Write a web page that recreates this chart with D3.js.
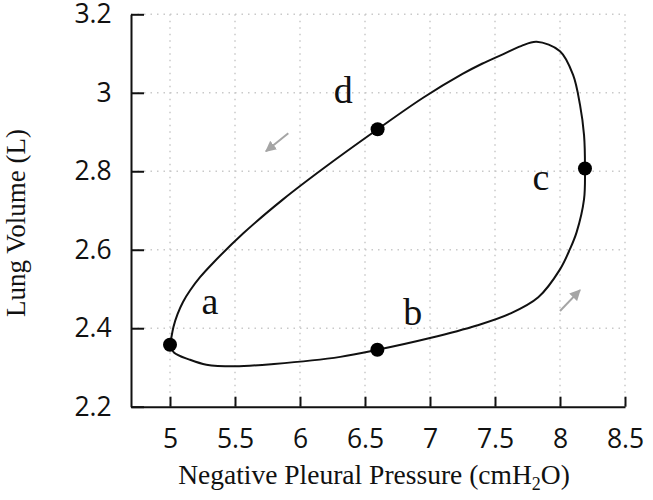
<!DOCTYPE html>
<html>
<head>
<meta charset="utf-8">
<script src="https://cdn.jsdelivr.net/npm/d3@7"></script>
<style>
  body { margin: 0; background: #fff; }
  svg { display: block; }
</style>
</head>
<body>
<svg id="chart" width="653" height="500"></svg>
<script>
// ---- data ----
const xTicks = [5, 5.5, 6, 6.5, 7, 7.5, 8, 8.5];
const yTicks = [2.2, 2.4, 2.6, 2.8, 3.0, 3.2];
const xTickLabels = ["5", "5.5", "6", "6.5", "7", "7.5", "8", "8.5"];
const yTickLabels = ["2.2", "2.4", "2.6", "2.8", "3", "3.2"];

// loop a -> b -> c -> d -> a (pressure, volume)
const loopPressure = [5.0, 5.03, 5.15, 5.28, 5.5, 5.80, 6.31, 6.595, 7.0, 7.36, 7.615, 7.833, 8.0, 8.077, 8.128, 8.185, 8.192, 8.185, 8.154, 8.10, 8.0, 7.82, 7.70, 7.56, 7.40, 7.25, 6.95, 6.597, 6.179, 5.872, 5.564, 5.333, 5.231, 5.154, 5.10, 5.058, 5.027, 5.008];
const loopVolume   = [2.358, 2.338, 2.320, 2.307, 2.303, 2.309, 2.327, 2.345, 2.375, 2.407, 2.437, 2.479, 2.55, 2.602, 2.645, 2.729, 2.807, 2.892, 2.969, 3.046, 3.106, 3.130, 3.119, 3.098, 3.074, 3.048, 2.988, 2.907, 2.807, 2.729, 2.642, 2.567, 2.530, 2.496, 2.467, 2.436, 2.404, 2.372];

const pointNames    = ["a", "b", "c", "d"];
const pointPressure = [5.0, 6.595, 8.192, 6.597];
const pointVolume   = [2.358, 2.345, 2.807, 2.907];

// label anchor (centre x, baseline y) in data units
const labelPressure = [5.308, 6.867, 7.854, 6.333];
const labelVolume   = [2.435, 2.407, 2.751, 2.974];

const arrows = [
  { x1: 5.91, y1: 2.897, x2: 5.738, y2: 2.851 },
  { x1: 8.0, y1: 2.444, x2: 8.154, y2: 2.497 }
];

// ---- layout ----
const W = 653, H = 500;
const margin = { left: 131, right: 28, top: 14.3, bottom: 93.3 };
const svg = d3.select("#chart");

const x = d3.scaleLinear().domain([4.7, 8.5]).range([margin.left, W - margin.right]);
const y = d3.scaleLinear().domain([2.2, 3.2]).range([H - margin.bottom, margin.top]);

const tickFont = "'Open Sans', 'Noto Sans', sans-serif";
const serif = "'Liberation Serif', 'Times New Roman', serif";

// grid
const grid = svg.append("g").attr("stroke", "#c9c9c9").attr("stroke-width", 1.5)
  .attr("stroke-dasharray", "1.5,5");
grid.selectAll("line.v").data(xTicks).join("line")
  .attr("x1", d => x(d)).attr("x2", d => x(d))
  .attr("y1", y(3.2)).attr("y2", y(2.2));
grid.selectAll("line.h").data(yTicks.filter(d => d > 2.2)).join("line")
  .attr("x1", x.range()[0]).attr("x2", x.range()[1])
  .attr("y1", d => y(d)).attr("y2", d => y(d));

// axes
const xAxis = d3.axisBottom(x).tickValues(xTicks)
  .tickFormat((d, i) => xTickLabels[i]).tickSizeInner(-10).tickSizeOuter(0).tickPadding(22);
const yAxis = d3.axisLeft(y).tickValues(yTicks)
  .tickFormat((d, i) => yTickLabels[i]).tickSizeInner(-13).tickSizeOuter(0).tickPadding(18);

const gx = svg.append("g").attr("transform", `translate(0,${y(2.2)})`).call(xAxis);
const gy = svg.append("g").attr("transform", `translate(${x.range()[0]},0)`).call(yAxis);
[gx, gy].forEach(g => {
  g.select(".domain").attr("stroke", "#111").attr("stroke-width", 2);
  g.selectAll(".tick line").attr("stroke", "#111").attr("stroke-width", 2);
  g.selectAll(".tick text").attr("fill", "#111")
    .style("font-family", tickFont).style("font-size", "26.5px");
});
gy.selectAll(".tick text").attr("dx", "-0.05em");

// axis titles
const xt = svg.append("text")
  .attr("x", 374)
  .attr("y", 484)
  .attr("text-anchor", "middle")
  .style("font-family", serif).style("font-size", "27.5px").attr("fill", "#111");
xt.append("tspan").text("Negative Pleural Pressure (cmH");
xt.append("tspan").text("2").style("font-size", "18px").attr("dy", 6);
xt.append("tspan").text("O)").attr("dy", -6);

svg.append("text")
  .attr("transform", "translate(25,223) rotate(-90)")
  .attr("text-anchor", "middle")
  .style("font-family", serif).style("font-size", "27px").attr("fill", "#111")
  .text("Lung Volume (L)");

// loop curve
const loop = loopPressure.map((p, i) => [p, loopVolume[i]]);
const line = d3.line().x(d => x(d[0])).y(d => y(d[1])).curve(d3.curveCatmullRomClosed.alpha(0.5));
svg.append("path").datum(loop)
  .attr("d", line)
  .attr("fill", "none").attr("stroke", "#111").attr("stroke-width", 2);

// points
svg.selectAll("circle.pt").data(pointNames).join("circle")
  .attr("cx", (d, i) => x(pointPressure[i]))
  .attr("cy", (d, i) => y(pointVolume[i]))
  .attr("r", 7).attr("fill", "#000");

// labels
svg.selectAll("text.lbl").data(pointNames).join("text")
  .attr("x", (d, i) => x(labelPressure[i]))
  .attr("y", (d, i) => y(labelVolume[i]))
  .attr("text-anchor", "middle")
  .style("font-family", serif).style("font-size", "38px").attr("fill", "#111")
  .text(d => d);

// arrows
const defs = svg.append("defs");
defs.append("marker").attr("id", "ah")
  .attr("viewBox", "0 0 10 10").attr("refX", 9).attr("refY", 5)
  .attr("markerWidth", 5.5).attr("markerHeight", 5.5).attr("markerUnits", "strokeWidth")
  .attr("orient", "auto")
  .append("path").attr("d", "M0,0 L10,5 L0,10 Z").attr("fill", "#a5a5a5");
svg.selectAll("line.arrow").data(arrows).join("line")
  .attr("x1", d => x(d.x1)).attr("y1", d => y(d.y1))
  .attr("x2", d => x(d.x2)).attr("y2", d => y(d.y2))
  .attr("stroke", "#a5a5a5").attr("stroke-width", 2)
  .attr("marker-end", "url(#ah)");
</script>
</body>
</html>
